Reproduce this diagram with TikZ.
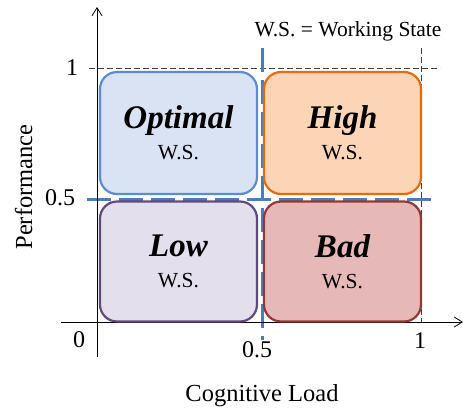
\documentclass[tikz,border=0pt]{standalone}
\usepackage{fontspec}
\setmainfont{Liberation Serif}
\usetikzlibrary{positioning, arrows.meta}

\definecolor{optfill}{HTML}{DAE3F3}
\definecolor{optline}{HTML}{5A8CD3}
\definecolor{highfill}{HTML}{FBD5B5}
\definecolor{highline}{HTML}{E46C0A}
\definecolor{lowfill}{HTML}{E4DFEC}
\definecolor{lowline}{HTML}{604A7B}
\definecolor{badfill}{HTML}{E6B9B8}
\definecolor{badline}{HTML}{953735}
\definecolor{splitblue}{HTML}{4A7EBB}

\begin{document}
\begin{tikzpicture}[x=1pt, y=-1pt,
        ws/.style={draw, rounded corners=17pt, line width=2.2pt, minimum width=157pt, align=center, font=\fontsize{21.5}{31}\selectfont},
        axis/.style={line width=0.8pt, -{Straight Barb[length=8pt, width=10pt]}},
        guide/.style={line width=0.8pt, dash pattern=on 6pt off 3pt, black!75},
        split/.style={line width=3pt, dash pattern=on 24pt off 8pt, splitblue},
        tick/.style={font=\fontsize{24}{24}\selectfont}]
        \useasboundingbox (0, 0) rectangle (463, 410);

        \coordinate (xs) at (61, 322);
        \coordinate (xe) at (463, 322);
        \coordinate (ys) at (97, 357);
        \coordinate (ye) at (97, 7);

        \coordinate (g1) at (89, 68);
        \coordinate (g2) at (440, 68);
        \coordinate (g3) at (421, 48);
        \coordinate (g4) at (421, 322);

        \coordinate (h1) at (87, 199);
        \coordinate (h2) at (435, 199);
        \coordinate (v1) at (262, 48);
        \coordinate (v2) at (262, 340);

        \draw[guide] (g1) -- (g2);
        \draw[guide] (g3) -- (g4);
        \draw[split] (h1) -- (h2);
        \draw[split] (v1) -- (v2);

        \draw[axis] (xs) -- (xe);
        \draw[axis] (ys) -- (ye);

        \node[ws, fill=optfill, draw=optline, minimum height=122pt] (opt) at (178.5, 133) {{\fontsize{33}{33}\selectfont\bfseries\itshape Optimal}\\W.S.};
        \node[ws, fill=highfill, draw=highline, minimum height=122pt] (high) at (342.5, 133) {{\fontsize{33}{33}\selectfont\bfseries\itshape High}\\W.S.};
        \node[ws, fill=lowfill, draw=lowline, minimum height=120pt] (low) at (178.5, 261.5) {{\fontsize{33}{33}\selectfont\bfseries\itshape Low}\\W.S.};
        \node[ws, fill=badfill, draw=badline, minimum height=120pt] (bad) at (342.5, 261.5) {{\fontsize{33}{33}\selectfont\bfseries\itshape Bad}\\W.S.};

        \node[tick] (y1) at (72, 68) {1};
        \node[tick] (y05) at (60, 198) {0.5};
        \node[tick] (x0) at (79, 340) {0};
        \node[tick] (x05) at (257, 350) {0.5};
        \node[tick] (x1) at (420, 341) {1};

        \node[font=\fontsize{24.5}{24.5}\selectfont, anchor=base] (xlab) at (262, 401) {Cognitive Load};
        \node[font=\fontsize{24.5}{24.5}\selectfont, anchor=base, rotate=90] (ylab) at (32, 187) {Performance};
        \node[font=\fontsize{21.5}{21.5}\selectfont, anchor=base] (key) at (348, 36) {W.S. = Working State};
\end{tikzpicture}
\end{document}
